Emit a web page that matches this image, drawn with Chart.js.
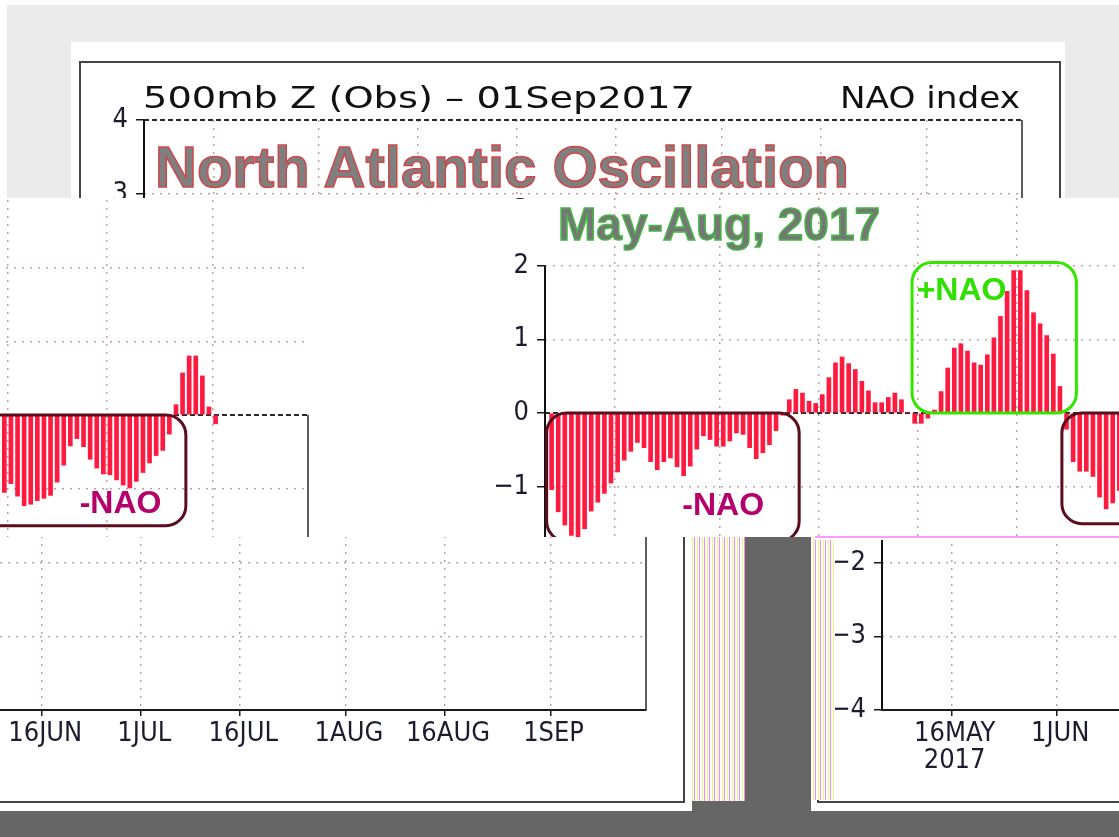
<!DOCTYPE html>
<html>
<head>
<meta charset="utf-8">
<title>North Atlantic Oscillation, May-Aug 2017</title>
<script src="https://cdn.jsdelivr.net/npm/chart.js@4.4.0/dist/chart.umd.min.js"></script>
<style>
  html, body { margin: 0; padding: 0; }
  body { width: 1119px; height: 837px; position: relative; overflow: hidden; background: #fff; }
  .box { position: absolute; }
  .clip { position: absolute; overflow: hidden; background: #fff; }
  .clip canvas { position: absolute; }
  #grey { left: 7px; top: 5px; width: 1112px; height: 193px; background: #ebebeb; }
  #top { left: 71px; top: 42px; width: 994px; height: 156px; }
  #top canvas { left: 8px; top: 19px; }
  #midL { left: 0; top: 198px; width: 310px; height: 339px; }
  #midL canvas { left: -635px; top: -137px; }
  #midR { left: 490px; top: 198px; width: 629px; height: 339px; }
  #midR canvas { left: -10px; top: -139px; }
  #botL { left: 0; top: 537px; width: 692px; height: 274px; }
  #botL canvas { left: -297px; top: -476px; }
  #botR { left: 811px; top: 537px; width: 308px; height: 274px; }
  #botR canvas { left: 6px; top: -476px; }
  .dark { background: #666; }
  .stripes { background: repeating-linear-gradient(90deg, #fff 0, #fff 2px, #f2f27a 2px, #f2f27a 3px, #fff 3px, #fff 4px, #ec8cec 4px, #ec8cec 5px); }
  .overlay { position: absolute; font-family: 'Liberation Sans', Arial, sans-serif; font-weight: bold; white-space: nowrap; line-height: 1; }
  #bigTitle { left: 155px; top: 138px; font-size: 58px; color: #7f7f7f; -webkit-text-stroke: 1.5px #d0484a; }
  #subTitle { left: 558px; top: 201px; font-size: 46px; color: #767676; -webkit-text-stroke: 1.5px #45b845; }
</style>
</head>
<body>
<div id="grey" class="box"></div>
<div id="top" class="clip"><canvas id="cTop" width="982" height="742"></canvas></div>
<div id="midL" class="clip"><canvas id="cMidL" width="982" height="742"></canvas></div>
<div id="midR" class="clip"><canvas id="cMidR" width="982" height="742"></canvas></div>
<div id="botL" class="clip"><canvas id="cBotL" width="982" height="742"></canvas></div>
<div id="botR" class="clip"><canvas id="cBotR" width="982" height="742"></canvas></div>
<div class="box stripes" style="left:690px; top:537px; width:55px; height:264px;"></div>
<div class="box dark" style="left:745px; top:537px; width:66px; height:300px;"></div>
<div class="box dark" style="left:692px; top:801px; width:60px; height:36px;"></div>
<div class="box dark" style="left:0; top:811px; width:1119px; height:26px;"></div>
<div class="box stripes" style="left:811px; top:537px; width:24px; height:263px;"></div>
<div class="box" style="left:815px; top:536px; width:304px; height:4px; background:#fff;"></div>
<div class="box" style="left:815px; top:536px; width:304px; height:2px; background:#ff9cff;"></div>
<div id="bigTitle" class="overlay">North Atlantic Oscillation</div>
<div id="subTitle" class="overlay">May-Aug, 2017</div>

<script>
// daily axis: 5 May 2017 (index 0) to 15 Sep 2017 (index 133)
const days = Array.from({length: 134}, (_, i) => i);

// daily NAO index, 5 May .. 1 Sep 2017
const naoIndex = [
  null, -1.04, -1.34, -1.52, -1.66, -1.68, -1.57, -1.33, -1.21, -1.09,
  -0.95, -0.80, -0.64, -0.52, -0.40, -0.47, -0.66, -0.77, -0.66, -0.61,
  -0.73, -0.85, -0.72, -0.49, -0.31, -0.36, -0.45, -0.45, -0.38, -0.27,
  -0.29, -0.47, -0.62, -0.54, -0.43, -0.24, -0.03, 0.18, 0.32, 0.27,
  0.16, 0.13, 0.25, 0.48, 0.68, 0.76, 0.67, 0.59, 0.43, 0.30,
  0.14, 0.14, 0.21, 0.27, 0.18, 0.01, -0.14, -0.14, -0.07, 0.04,
  0.29, 0.61, 0.88, 0.94, 0.84, 0.68, 0.65, 0.79, 1.02, 1.31,
  1.65, 1.93, 1.93, 1.66, 1.36, 1.21, 1.05, 0.80, 0.36, -0.22,
  -0.66, -0.79, -0.79, -0.86, -1.14, -1.30, -1.22, -1.05, -0.93, -1.10,
  -1.23, -1.21, -1.16, -1.13, -1.09, -0.91, -0.68, -0.42, -0.32, -0.43,
  -0.60, -0.72, -0.80, -0.81, -0.88, -0.95, -0.99, -0.90, -0.78, -0.65,
  -0.55, -0.48, -0.26, 0.14, 0.57, 0.80, 0.80, 0.53, 0.11, -0.12
];

const tickDays = [11, 27, 42, 57, 72, 88, 103, 119];
const tickLabels = [['16MAY', '2017'], '1JUN', '16JUN', '1JUL', '16JUL', '1AUG', '16AUG', '1SEP'];
const header = ['500mb Z (Obs) \u2013 01Sep2017', 'NAO index'];

// highlighted phases (day index / index value)
const noteBoxes = [
  {text: '-NAO', from: 0.25, to: 38.5, hi: 0, lo: -1.74, tx: 27.0, ty: -1.26, line: '#5a0d1e', ink: '#b5006c'},
  {text: '+NAO', from: 55.6, to: 80.5, hi: 2.04, lo: 0, tx: 63.1, ty: 1.65, line: '#33e600', ink: '#2fe000'},
  {text: '-NAO', from: 78.3, to: 114.5, hi: 0, lo: -1.50, tx: 104.6, ty: -1.21, line: '#5a0d1e', ink: '#b5006c'}
];

const gridCol = 'rgba(190,150,156,0.9)';
const tickFont = "'Liberation Sans Narrow', 'DejaVu Sans Condensed', 'Liberation Sans', sans-serif";

function stretchText(ctx, s, x, y, target, align) {
  const w = ctx.measureText(s).width;
  ctx.save();
  ctx.translate(x, y);
  ctx.scale(target / w, 1);
  ctx.textAlign = 'left';
  ctx.fillText(s, align === 'right' ? -w : 0, 0);
  ctx.restore();
}

function roundBox(ctx, l, t, r, b, rad) {
  ctx.beginPath();
  ctx.moveTo(l + rad, t);
  ctx.lineTo(r - rad, t);
  ctx.arcTo(r, t, r, t + rad, rad);
  ctx.lineTo(r, b - rad);
  ctx.arcTo(r, b, r - rad, b, rad);
  ctx.lineTo(l + rad, b);
  ctx.arcTo(l, b, l, b - rad, rad);
  ctx.lineTo(l, t + rad);
  ctx.arcTo(l, t, l + rad, t, rad);
  ctx.closePath();
}

// GrADS style plot frame: dashed zero line, dashed top edge, axis lines
const gradsFrame = {
  id: 'gradsFrame',
  beforeDatasetsDraw(chart, args, opts) {
    const {ctx, chartArea: a, scales: {y}} = chart;
    ctx.save();
    ctx.strokeStyle = '#2a2a2a';
    ctx.lineWidth = 2;
    ctx.setLineDash([5, 3]);
    const y0 = y.getPixelForValue(0);
    ctx.beginPath();
    ctx.moveTo(a.left, y0); ctx.lineTo(a.right, y0);
    ctx.moveTo(a.left, a.top); ctx.lineTo(a.right, a.top);
    ctx.stroke();
    ctx.setLineDash([]);
    ctx.lineWidth = 1.5;
    ctx.beginPath();
    ctx.moveTo(a.right, y.getPixelForValue(opts.edgeFrom)); ctx.lineTo(a.right, a.bottom);
    ctx.stroke();
    ctx.strokeStyle = '#111';
    ctx.lineWidth = 2;
    ctx.beginPath();
    ctx.moveTo(a.left, y.getPixelForValue(opts.axisFrom)); ctx.lineTo(a.left, a.bottom);
    ctx.stroke();
    ctx.restore();
  },
  afterDraw(chart) {
    const {ctx, width, height, chartArea: a} = chart;
    ctx.save();
    ctx.strokeStyle = '#444';
    ctx.lineWidth = 2;
    ctx.strokeRect(1, 1, width - 2, height - 2);
    ctx.fillStyle = '#111';
    ctx.font = "31px 'DejaVu Sans', sans-serif";
    ctx.textBaseline = 'alphabetic';
    stretchText(ctx, header[0], a.left - 1, 47, 552, 'left');
    stretchText(ctx, header[1], a.right - 2, 47, 180, 'right');
    ctx.restore();
  }
};

const naoNotes = {
  id: 'naoNotes',
  afterDatasetsDraw(chart, args, opts) {
    if (!opts.show) return;
    const {ctx, scales: {x, y}} = chart;
    ctx.save();
    noteBoxes.forEach(b => {
      ctx.strokeStyle = b.line;
      ctx.lineWidth = 3;
      roundBox(ctx, x.getPixelForValue(b.from), y.getPixelForValue(b.hi),
               x.getPixelForValue(b.to), y.getPixelForValue(b.lo), 20);
      ctx.stroke();
      ctx.fillStyle = b.ink;
      ctx.font = "bold 32px 'Liberation Sans', Arial, sans-serif";
      ctx.textAlign = 'center';
      ctx.textBaseline = 'middle';
      ctx.fillText(b.text, x.getPixelForValue(b.tx), y.getPixelForValue(b.ty));
    });
    ctx.restore();
  }
};

function drawNao(id, showNotes, edgeFrom, axisFrom) {
  return new Chart(document.getElementById(id), {
    type: 'bar',
    data: {
      labels: days,
      datasets: [{
        data: naoIndex,
        backgroundColor: '#ff1a40',
        borderWidth: 0,
        barThickness: 4
      }]
    },
    options: {
      responsive: false,
      animation: false,
      devicePixelRatio: 1,
      layout: {autoPadding: false, padding: {left: 0, top: 59, right: 39, bottom: 0}},
      plugins: {
        legend: {display: false},
        tooltip: {enabled: false},
        naoNotes: {show: showNotes},
        gradsFrame: {edgeFrom: edgeFrom, axisFrom: axisFrom}
      },
      scales: {
        x: {
          offset: false,
          grid: {
            color: c => tickDays.includes(c.index) ? gridCol : 'transparent',
            lineWidth: 1.5,
            tickLength: 6,
            tickWidth: 1.5,
            tickColor: c => tickDays.includes(c.index) ? '#1a1a1a' : 'transparent'
          },
          border: {color: '#1a1a1a', width: 2, dash: [2, 6]},
          ticks: {
            autoSkip: false,
            maxRotation: 0,
            minRotation: 0,
            padding: 4,
            color: '#1c1c30',
            font: {family: tickFont, size: 27, lineHeight: 1.0},
            callback: (v, i) => {
              const k = tickDays.indexOf(i);
              return k < 0 ? '' : tickLabels[k];
            }
          },
          afterFit: s => { s.height = 93; }
        },
        y: {
          min: -4,
          max: 4,
          grid: {
            color: c => Math.abs(c.tick.value) === 4 ? 'transparent' : gridCol,
            lineWidth: 1.5,
            tickLength: 8,
            tickWidth: 1.5,
            tickColor: '#1a1a1a'
          },
          border: {display: false, dash: [2, 6]},
          ticks: {
            stepSize: 1,
            padding: 8,
            color: '#1c1c30',
            font: {family: tickFont, size: 27},
            callback: v => v < 0 ? '\u2212' + (-v) : String(v)
          },
          afterFit: s => { s.width = 65; }
        }
      }
    },
    plugins: [gradsFrame, naoNotes]
  });
}

drawNao('cTop', false, 4, 4);
drawNao('cMidL', true, 0, 4);
drawNao('cMidR', true, 4, 2);
drawNao('cBotL', false, 4, 4);
drawNao('cBotR', false, 4, 4);
</script>
</body>
</html>
